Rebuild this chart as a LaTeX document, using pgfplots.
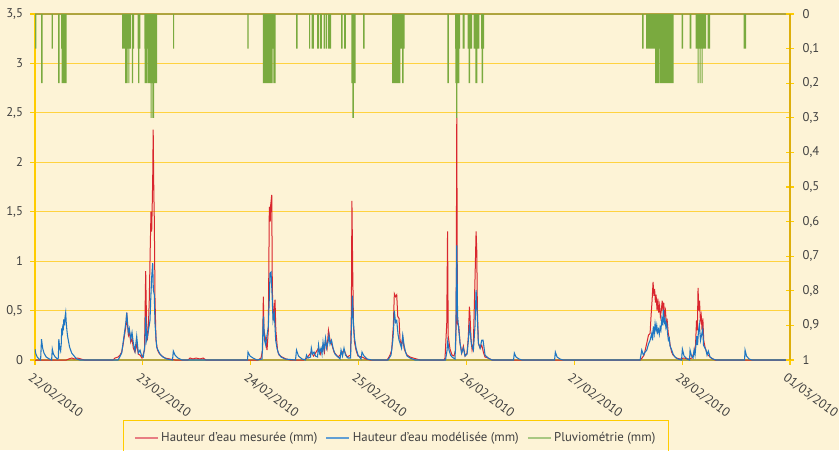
\documentclass[border=0pt]{standalone}
\usepackage{fontspec}
\setmainfont{PT Sans}
\usepackage{pgfplots}
\pgfplotsset{compat=1.18}
\usepackage{pgfplotstable}

\definecolor{bgcream}{HTML}{FDF3D6}
\definecolor{gridyel}{HTML}{FFD23F}
\definecolor{axyel}{HTML}{FFCC00}
\definecolor{axgold}{HTML}{DDAE0C}
\definecolor{olive}{HTML}{B3A43E}
\definecolor{mesure}{HTML}{D9262E}
\definecolor{modele}{HTML}{1E76C2}
\definecolor{pluie}{HTML}{7AAA3F}
\definecolor{txt}{HTML}{404040}

% Hauteur d'eau mesuree (mm), heures depuis le 22/02/2010 00h
\pgfplotstableread{
h v
0 0
7.0 0
7.5 0.01
8.2 0.02
8.8 0.01
9.5 0.02
10.2 0.01
11.0 0
17.36 0
17.8 0.02
18.47 0.03
18.92 0.05
19.29 0.08
19.58 0.15
19.92 0.25
20.25 0.35
20.41 0.48
20.59 0.35
20.81 0.25
21.03 0.28
21.3 0.18
21.59 0.22
21.88 0.12
22.25 0.08
22.63 0.16
22.99 0.06
23.37 0.05
23.81 0.02
24.37 0.10
24.63 0.90
24.81 0.40
24.99 0.20
25.21 0.30
25.43 0.61
25.63 1.10
25.81 1.50
25.97 1.30
26.19 1.82
26.3 2.33
26.44 1.70
26.55 1.42
26.7 0.63
26.92 0.20
27.26 0.10
27.59 0.07
28.26 0.04
28.93 0.02
30.04 0.01
31.16 0
34.05 0
34.49 0.02
35.16 0.01
35.83 0.02
36.72 0.01
37.39 0.02
38.05 0
49.63 0
50.3 0.02
50.63 0.10
50.81 0.64
50.96 0.30
51.34 0.20
51.63 0.10
51.92 0.30
52.14 1.55
52.34 1.40
52.45 1.57
52.68 1.67
52.81 0.71
53.03 0.40
53.41 0.61
53.59 0.30
53.97 0.10
54.3 0.05
54.97 0.03
55.86 0.01
56.75 0
59.8 0
60.5 0.02
61.49 0.08
62.0 0.04
63.09 0.12
63.5 0.06
64.09 0.15
64.4 0.08
64.65 0.20
65.0 0.12
65.3 0.30
65.65 0.20
66.1 0.15
66.54 0.08
67.43 0.03
68.1 0.06
68.76 0.10
69.43 0.03
70.21 0.05
70.4 0.50
70.52 1.61
70.7 0.90
70.87 0.35
71.1 0.18
71.44 0.10
71.88 0.04
72.77 0.03
73.66 0.01
74.55 0
78.35 0
78.63 0.02
79.0 0.05
79.37 0.10
79.73 0.34
79.96 0.67
80.22 0.64
80.49 0.66
80.72 0.44
81.01 0.42
81.23 0.20
81.56 0.15
81.83 0.23
82.12 0.12
82.35 0.09
82.79 0.05
83.45 0.03
84.12 0.02
84.94 0.01
85.68 0
91.02 0
91.24 0.02
91.62 0.37
91.8 1.30
91.95 0.24
92.35 0.11
92.8 0.05
93.24 0.04
93.58 0.10
93.71 0.37
93.85 2.45
94.0 0.37
94.3 0.34
94.58 0.17
94.96 0.07
95.32 0.14
95.7 0.04
96.14 0.07
96.43 0.24
96.66 0.54
96.81 0.44
97.03 0.20
97.26 0.10
97.55 0.17
97.92 0.84
98.15 1.30
98.3 1.11
98.44 0.50
98.66 0.17
99.04 0.12
99.41 0.15
99.77 0.08
100.14 0.03
100.81 0.02
101.7 0
134.64 0
135.08 0.02
135.53 0.05
136.13 0.17
136.5 0.25
136.87 0.27
137.09 0.45
137.31 0.60
137.53 0.79
137.71 0.65
137.87 0.72
138.05 0.58
138.2 0.66
138.42 0.50
138.6 0.62
138.78 0.48
138.98 0.55
139.16 0.44
139.36 0.50
139.56 0.60
139.72 0.50
139.9 0.58
140.1 0.45
140.28 0.50
140.48 0.38
140.67 0.40
140.89 0.28
141.11 0.22
141.33 0.15
141.66 0.08
141.98 0.05
142.65 0.02
143.54 0.01
144.43 0.02
145.32 0.01
146.21 0.02
146.65 0.08
146.98 0.15
147.2 0.40
147.38 0.30
147.54 0.73
147.71 0.50
147.87 0.60
148.05 0.40
148.25 0.45
148.43 0.30
148.61 0.42
148.8 0.20
149.09 0.13
149.42 0.08
149.76 0.05
150.42 0.02
151.31 0
168 0
}\mesuree

% Hauteur d'eau modelisee (mm)
\pgfplotstableread{
h v
0 0.11
0.2 0.06
0.5 0.03
0.9 0.01
1.25 0.0
1.45 0.21
1.7 0.12
2.0 0.07
2.5 0.03
3.2 0.01
3.7 0.0
3.85 0.11
4.1 0.06
4.5 0.03
5.0 0.01
5.2 0.02
5.3 0.21
5.5 0.12
5.7 0.09
5.85 0.17
5.95 0.32
6.1 0.25
6.2 0.36
6.3 0.30
6.4 0.41
6.55 0.35
6.7 0.44
6.83 0.48
6.95 0.38
7.1 0.30
7.25 0.24
7.41 0.20
7.7 0.13
8.17 0.07
8.7 0.04
9.3 0.01
10.0 0.0
18.5 0.0
19.29 0.07
19.8 0.24
20.25 0.39
20.41 0.48
20.54 0.41
20.76 0.28
20.98 0.32
21.3 0.21
21.59 0.28
21.88 0.17
22.25 0.09
22.63 0.24
22.99 0.07
23.37 0.10
23.74 0.04
24.1 0.03
24.48 0.16
24.63 0.44
24.86 0.20
25.21 0.29
25.59 0.40
25.75 0.61
25.97 0.84
26.19 0.98
26.33 0.71
26.55 0.66
26.7 0.37
27.08 0.13
27.37 0.10
27.82 0.06
28.48 0.03
29.31 0.01
30.6 0.0
30.78 0.09
31.16 0.05
31.82 0.02
32.71 0.0
47.29 0.0
47.4 0.08
47.85 0.04
48.51 0.02
49.4 0.0
50.52 0.01
50.81 0.44
51.07 0.20
51.34 0.15
51.63 0.25
51.92 0.34
52.12 0.60
52.3 0.88
52.52 0.89
52.75 0.67
52.97 0.40
53.25 0.47
53.56 0.20
53.85 0.12
54.14 0.07
54.74 0.03
55.64 0.01
57.97 0.0
58.19 0.10
58.64 0.04
59.42 0.01
60.2 0.0
60.42 0.05
60.75 0.02
61.31 0.03
61.49 0.12
61.75 0.06
62.09 0.08
62.42 0.04
62.87 0.03
63.09 0.15
63.31 0.07
63.65 0.12
63.87 0.06
64.09 0.18
64.31 0.10
64.65 0.22
64.87 0.12
65.2 0.18
65.42 0.25
65.65 0.16
65.98 0.20
66.32 0.12
66.76 0.06
67.21 0.04
67.88 0.01
68.1 0.10
68.43 0.04
68.76 0.12
69.09 0.05
69.65 0.02
70.21 0.02
70.43 0.35
70.61 0.65
70.83 0.40
71.1 0.22
71.44 0.12
71.88 0.05
72.55 0.01
72.77 0.08
73.22 0.04
73.88 0.01
75.0 0.0
78.56 0.0
79.22 0.05
79.6 0.19
79.78 0.30
79.96 0.50
80.22 0.38
80.49 0.40
80.78 0.26
81.01 0.20
81.23 0.17
81.56 0.12
81.83 0.25
82.12 0.15
82.45 0.08
82.79 0.04
83.45 0.02
84.57 0.0
91.35 0.0
91.69 0.10
91.84 0.19
92.13 0.10
92.47 0.05
92.8 0.03
93.47 0.01
93.65 0.30
93.85 1.16
94.03 0.45
94.3 0.30
94.58 0.17
94.92 0.07
95.32 0.12
95.7 0.04
96.14 0.06
96.43 0.20
96.66 0.34
96.92 0.25
97.15 0.15
97.55 0.10
97.92 0.35
98.15 0.71
98.37 0.50
98.66 0.17
99.04 0.12
99.41 0.20
99.7 0.20
100.14 0.05
100.81 0.02
101.7 0.0
106.48 0.0
106.66 0.07
107.04 0.03
107.71 0.01
108.38 0.0
115.61 0.0
115.79 0.08
116.17 0.03
116.83 0.01
117.5 0.0
134.64 0.0
135.01 0.10
135.37 0.05
135.75 0.08
136.13 0.10
136.5 0.16
136.87 0.20
137.25 0.27
137.42 0.20
137.6 0.34
137.8 0.27
137.98 0.37
138.2 0.30
138.35 0.35
138.53 0.28
138.72 0.31
138.92 0.26
139.09 0.33
139.27 0.30
139.47 0.41
139.65 0.35
139.82 0.51
140.03 0.38
140.2 0.41
140.38 0.33
140.58 0.37
140.76 0.27
140.94 0.20
141.14 0.22
141.31 0.14
141.69 0.10
141.98 0.06
142.42 0.03
143.09 0.01
143.87 0.0
144.05 0.11
144.43 0.04
145.1 0.01
145.65 0.0
145.76 0.10
146.1 0.04
146.43 0.02
146.65 0.10
146.87 0.05
147.25 0.24
147.42 0.15
147.65 0.30
147.82 0.36
148.09 0.20
148.31 0.25
148.58 0.31
148.76 0.15
149.09 0.12
149.31 0.10
149.54 0.05
149.83 0.09
150.2 0.03
150.87 0.01
151.54 0.0
157.89 0.0
158.0 0.10
158.33 0.04
158.89 0.01
159.56 0.0
168 0.0
}\modelisee

% Pluviometrie (mm) : valeur tenue jusqu'au point suivant
\pgfplotstableread{
h v
0 0.1
0.3 0
1.34 0.2
1.71 0
3.72 0.1
4.0 0
5.12 0.2
5.5 0
5.79 0.1
5.94 0.2
7.05 0
19.36 0.1
20.03 0.2
20.63 0.1
20.76 0.2
20.98 0.1
21.36 0
21.58 0.2
21.81 0.1
22.03 0
22.85 0.1
22.92 0.2
23.21 0.1
23.43 0
24.32 0.1
24.41 0.2
24.99 0.1
25.14 0.2
25.75 0.3
25.97 0.2
26.10 0.3
26.48 0.2
27.15 0
30.71 0.1
30.93 0
47.24 0.1
47.55 0
50.73 0.2
52.89 0.1
53.02 0.2
53.56 0
58.08 0.1
58.46 0
60.97 0.1
61.2 0
61.53 0.1
62.08 0
62.75 0.1
63.2 0
63.42 0.1
63.86 0
64.24 0.1
64.53 0
64.75 0.1
64.98 0
65.2 0.1
65.87 0
68.09 0.1
68.47 0
68.76 0.1
69.2 0
70.38 0.2
70.6 0.3
70.98 0.2
71.36 0
72.99 0.1
73.37 0
79.44 0.2
81.29 0.1
81.67 0.2
82.04 0.1
82.27 0
91.75 0.2
92.12 0
93.46 0.1
93.53 0.2
93.68 0.3
93.97 0.2
94.41 0.1
94.57 0
95.17 0.1
95.62 0
96.28 0.1
96.51 0.2
96.8 0.1
97.24 0
97.62 0.1
97.98 0.2
98.42 0.1
98.87 0
99.25 0.1
99.4 0.2
99.69 0.1
99.91 0
135.07 0.1
135.44 0
135.96 0.1
137.96 0.2
138.86 0.1
139.01 0.2
142.12 0
143.90 0.1
144.19 0
145.68 0.1
146.04 0
147.02 0.1
147.46 0.2
147.69 0.1
147.91 0.2
148.13 0.1
148.36 0.2
148.58 0.1
149.31 0
149.69 0.1
150.20 0
157.70 0.1
158.21 0
168 0
}\pluie

\begin{document}
\begin{tikzpicture}[font=\fontsize{9.5}{11}\selectfont]
\fill[bgcream] (-26.25pt,-67.5pt) rectangle (603pt,270pt);

\pgfplotsset{
  base/.style={
    scale only axis, width=566.25pt, height=259.5pt,
    at={(0,0)}, anchor=south west,
    xmin=0, xmax=168,
    tick label style={text=txt},
    /pgf/number format/.cd, use comma, fixed, precision=1, assume math mode=true,
  },
}

\begin{axis}[base,
  ymin=0, ymax=3.5,
  axis x line*=bottom, axis y line*=left,
  x axis line style={draw=olive, line width=1pt},
  y axis line style={draw=axyel, line width=0.8pt},
  xtick={0,24,...,168},
  xticklabels={22/02/2010,23/02/2010,24/02/2010,25/02/2010,26/02/2010,27/02/2010,28/02/2010,01/03/2010},
  xticklabel style={rotate=-37, anchor=north west, inner sep=0pt, xshift=2pt, yshift=-5pt},
  ytick={0,0.5,...,3.5},
  yticklabel style={xshift=-2pt},
  tick align=outside, major tick length=3.5pt,
  tick style={draw=axyel, line width=0.8pt},
  ymajorgrids, major grid style={draw=gridyel, line width=0.9pt},
  legend columns=3,
  legend style={at={(axis description cs:0.478,-0.1734)}, anchor=north,
    draw=axyel, line width=0.8pt, fill=none, text=txt,
    font=\fontsize{9.6}{11}\selectfont,
    inner xsep=8pt, inner ysep=7pt,
    /tikz/every even column/.append style={column sep=4pt}},
  legend cell align=left,
  after end axis/.code={
    \draw[olive, line width=1.3pt] (rel axis cs:0,1) -- (rel axis cs:1,1);
  },
]
\addplot[mesure, line width=0.75pt, forget plot] table[x=h, y=v] {\mesuree};
\addplot[modele, line width=0.8pt, forget plot] table[x=h, y=v] {\modelisee};
\addlegendimage{draw=mesure!60, line width=1.5pt}
\addlegendentry{Hauteur d’eau mesurée (mm)}
\addlegendimage{draw=modele!70, line width=1.5pt}
\addlegendentry{Hauteur d’eau modélisée (mm)}
\addlegendimage{draw=pluie!65, line width=1.5pt}
\addlegendentry{Pluviométrie (mm)}
\end{axis}

\begin{axis}[base,
  ymin=0, ymax=1, y dir=reverse,
  axis x line=none, axis y line*=right,
  y axis line style={draw=axgold, line width=1.2pt},
  ytick={0,0.1,...,1},
  yticklabel style={anchor=west, xshift=3pt},
  tick align=center, major tick length=6pt,
  tick style={draw=axyel, line width=0.8pt},
]
\addplot[const plot mark left, fill=pluie, draw=none] table[x=h, y=v] {\pluie} \closedcycle;
\end{axis}

\pgfresetboundingbox
\path[use as bounding box] (-26.25pt,-67.5pt) rectangle (603pt,270pt);
\end{tikzpicture}
\end{document}
